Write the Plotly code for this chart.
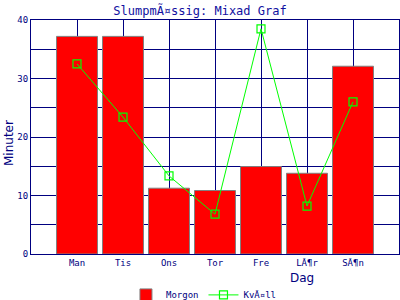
import plotly.graph_objects as go

days = ["Man", "Tis", "Ons", "Tor", "Fre", "LÃ¶r", "SÃ¶n"]
morgon = [37.2, 37.2, 11.25, 10.85, 14.95, 13.8, 32.1]
kvall = [32.5, 23.4, 13.35, 6.8, 38.5, 8.2, 26.0]

navy = "#000080"

fig = go.Figure()
fig.add_trace(go.Bar(
    x=days, y=morgon, name="Morgon", width=0.89,
    marker=dict(color="#ff0000", line=dict(color="#808080", width=1)),
))
fig.add_trace(go.Scatter(
    x=days, y=kvall, name="KvÃ¤ll", mode="lines+markers",
    line=dict(color="#00ff00", width=1),
    marker=dict(symbol="square-open", size=8, color="#00ff00", line=dict(width=1.2)),
))

fig.update_layout(
    width=400, height=300,
    margin=dict(l=31, r=1, t=20, b=46, autoexpand=False),
    paper_bgcolor="white", plot_bgcolor="white",
    title=dict(text="SlumpmÃ¤ssig: Mixad Graf", x=0.5, xanchor="center",
               y=0.965, yanchor="middle",
               font=dict(family="DejaVu Sans Mono", size=12, color="#1010a0")),
    showlegend=True,
    legend=dict(orientation="h", x=0.47, xanchor="center", yref="container",
                y=0.017, yanchor="middle",
                font=dict(family="DejaVu Sans Mono", size=9, color=navy),
                itemwidth=30, tracegroupgap=0, traceorder="normal"),
    annotations=[
        dict(text="Dag", xref="paper", yref="paper", x=(302 - 31) / 368, y=-(278 - 254) / 234,
             xanchor="center", yanchor="middle", showarrow=False,
             font=dict(family="DejaVu Sans", size=12, color=navy)),
        dict(text="Minuter", xref="paper", yref="paper", x=-(31 - 9) / 368, y=(254 - 143) / 234,
             xanchor="center", yanchor="middle", showarrow=False, textangle=-90,
             font=dict(family="DejaVu Sans", size=12, color=navy)),
    ],
)
fig.update_xaxes(
    type="category", range=[-1, 7], automargin=False,
    showgrid=True, gridcolor=navy, gridwidth=1,
    showline=True, linecolor=navy, linewidth=1, mirror=True,
    ticks="", tickfont=dict(family="DejaVu Sans Mono", size=9, color=navy),
    zeroline=False, layer="below traces",
)
fig.update_yaxes(
    range=[0, 40], automargin=False,
    tickvals=[0, 5, 10, 15, 20, 25, 30, 35, 40],
    ticktext=["0", "", "10", "", "20", "", "30", "", "40"],
    showgrid=True, gridcolor=navy, gridwidth=1,
    showline=True, linecolor=navy, linewidth=1, mirror=True,
    ticks="", tickfont=dict(family="DejaVu Sans Mono", size=9, color=navy),
    zeroline=False,
)
fig.write_html("out.html")
